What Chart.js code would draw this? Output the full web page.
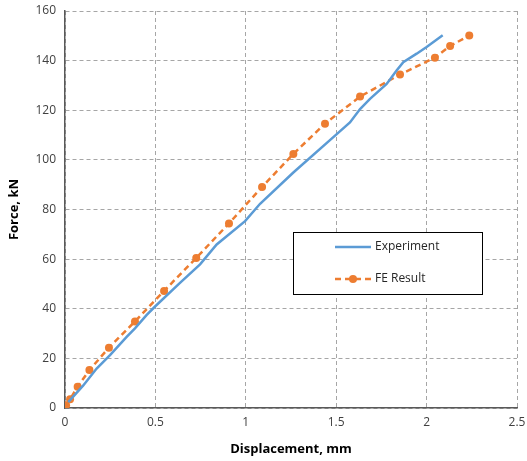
<!DOCTYPE html>
<html>
<head>
<meta charset="utf-8">
<script src="https://cdn.jsdelivr.net/npm/chart.js@4/dist/chart.umd.min.js"></script>
<style>
  html, body { margin: 0; padding: 0; background: #fff; }
  #wrap { width: 527px; height: 461px; position: relative; }
</style>
</head>
<body>
<div id="wrap"><canvas id="chart"></canvas></div>
<script>
// Force-displacement curves, values

const expDisp  = [0.018, 0.10, 0.175, 0.249, 0.341, 0.387, 0.452, 0.498, 0.636, 0.747, 0.839, 0.996, 1.079, 1.263, 1.503, 1.576, 1.632, 1.687, 1.779, 1.834, 1.871, 1.945, 2.0, 2.089];
const expForce = [2.4, 9.0, 15.9, 21.3, 28.7, 32.1, 37.5, 40.9, 50.4, 57.9, 65.9, 75.3, 82.3, 94.9, 110.4, 115.1, 120.5, 124.6, 130.6, 136.0, 139.4, 142.8, 145.5, 150.2];

const feDisp  = [0.006, 0.028, 0.07, 0.135, 0.243, 0.387, 0.548, 0.726, 0.907, 1.09, 1.263, 1.438, 1.632, 1.853, 2.046, 2.13, 2.236];
const feForce = [1.1, 3.5, 8.6, 15.3, 24.3, 34.9, 47.2, 60.5, 74.4, 89.1, 102.4, 114.6, 125.5, 134.4, 141.2, 145.9, 150.1];

const xTicks = [0, 0.5, 1, 1.5, 2, 2.5];
const yTicks = [0, 20, 40, 60, 80, 100, 120, 140, 160];

const blue = '#5B9BD5';
const orange = '#ED7D31';
const font = "'Open Sans', 'Liberation Sans', sans-serif";

function toPoints(xs, ys) {
    return xs.map((x, i) => ({ x: x, y: ys[i] }));
}

// legend box drawn inside plot area
const boxLegend = {
    id: 'boxLegend',
    afterDraw(chart) {
        const ctx = chart.ctx;
        const x = 293, y = 232, w = 189, h = 62;
        ctx.save();
        ctx.fillStyle = '#fff';
        ctx.fillRect(x, y, w, h);
        ctx.strokeStyle = '#000';
        ctx.lineWidth = 1;
        ctx.strokeRect(x + 0.5, y + 0.5, w, h);

        ctx.lineWidth = 2.5;
        ctx.strokeStyle = blue;
        ctx.beginPath();
        ctx.moveTo(335, 247);
        ctx.lineTo(371, 247);
        ctx.stroke();

        ctx.strokeStyle = orange;
        ctx.setLineDash([6, 4]);
        ctx.beginPath();
        ctx.moveTo(335, 279);
        ctx.lineTo(371, 279);
        ctx.stroke();
        ctx.setLineDash([]);
        ctx.fillStyle = orange;
        ctx.beginPath();
        ctx.arc(353, 279, 4, 0, Math.PI * 2);
        ctx.fill();

        ctx.fillStyle = '#262626';
        ctx.font = '12px ' + font;
        ctx.textBaseline = 'middle';
        ctx.fillText('Experiment', 375, 247);
        ctx.fillText('FE Result', 375, 279);
        ctx.restore();
    }
};

const grid = {
    color: '#a6a6a6',
    lineWidth: 1,
    drawTicks: false,
    tickLength: 0
};

new Chart(document.getElementById('chart'), {
    type: 'scatter',
    data: {
        datasets: [
            {
                label: 'Experiment',
                data: toPoints(expDisp, expForce),
                showLine: true,
                borderColor: blue,
                backgroundColor: blue,
                borderWidth: 2.5,
                pointRadius: 0,
                tension: 0
            },
            {
                label: 'FE Result',
                data: toPoints(feDisp, feForce),
                showLine: true,
                borderColor: orange,
                backgroundColor: orange,
                borderWidth: 2.5,
                borderDash: [6, 4],
                pointRadius: 4,
                pointBorderWidth: 0,
                tension: 0
            }
        ]
    },
    options: {
        responsive: true,
        maintainAspectRatio: false,
        animation: false,
        layout: { padding: { top: 11, right: 10, left: 0, bottom: 0 } },
        plugins: {
            legend: { display: false },
            tooltip: { enabled: false }
        },
        scales: {
            x: {
                type: 'linear',
                min: 0,
                max: 2.5,
                afterBuildTicks(scale) {
                    scale.ticks = xTicks.map(v => ({ value: v }));
                },
                afterFit(scale) {
                    scale.height = 53;
                    scale.paddingLeft = 0;
                    scale.paddingRight = 0;
                },
                grid: grid,
                border: { display: true, color: '#595959', width: 1.5, dash: [4, 3] },
                ticks: {
                    color: '#404040',
                    padding: 7,
                    font: { family: font, size: 12 },
                    callback: v => String(v)
                },
                title: {
                    display: true,
                    text: 'Displacement, mm',
                    color: '#000',
                    padding: { top: 4 },
                    font: { family: font, size: 13, weight: 'bold' }
                }
            },
            y: {
                type: 'linear',
                min: 0,
                max: 160,
                afterBuildTicks(scale) {
                    scale.ticks = yTicks.map(v => ({ value: v }));
                },
                afterFit(scale) {
                    scale.width = 65;
                    scale.paddingTop = 0;
                    scale.paddingBottom = 0;
                },
                grid: grid,
                border: { display: true, color: '#595959', width: 1.5, dash: [4, 3] },
                ticks: {
                    color: '#404040',
                    padding: 9,
                    font: { family: font, size: 12 }
                },
                title: {
                    display: true,
                    text: 'Force, kN',
                    color: '#000',
                    padding: { top: 6, bottom: 0 },
                    font: { family: font, size: 13, weight: 'bold' }
                }
            }
        }
    },
    plugins: [boxLegend]
});
</script>
</body>
</html>
